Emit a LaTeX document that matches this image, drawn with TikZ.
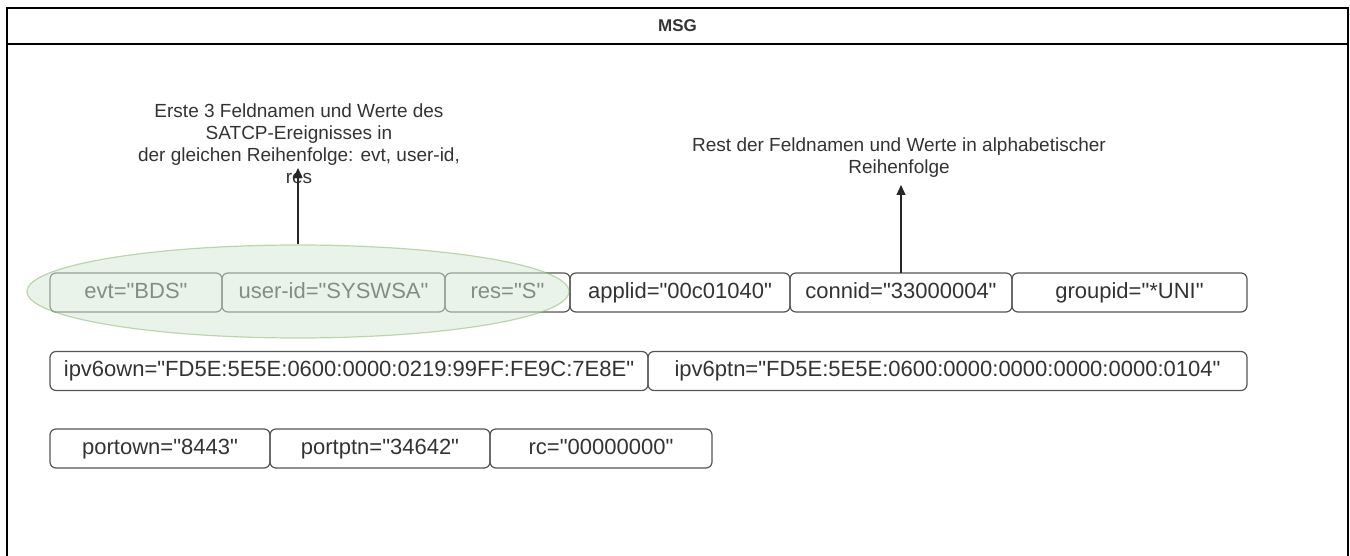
\documentclass[tikz,border=0pt]{standalone}
\usepackage{fontspec}
\setmainfont{Liberation Sans}[Ligatures=TeXOff]
\usetikzlibrary{positioning,arrows.meta,shapes.geometric}

\definecolor{ink}{HTML}{333333}
\definecolor{edge}{HTML}{555555}
\definecolor{leaf}{HTML}{D5E8D4}
\definecolor{leafline}{HTML}{82B366}

\begin{document}
\begin{tikzpicture}[
    x=1pt, y=-1pt,
    >={Triangle[length=10pt,width=9pt]},
    field/.style={draw=edge, line width=1.2pt, rounded corners=6pt,
                  minimum height=39pt, inner sep=0pt, outer sep=0pt,
                  text height=16pt, text depth=4.5pt,
                  text=ink, font=\fontsize{22}{26}\selectfont},
    note/.style={align=center, text=ink, inner sep=0pt,
                 font=\fontsize{19}{22}\selectfont},
    pointer/.style={->, line width=1.3pt, draw=black!85}
  ]
  \clip (0,0) rectangle (1350,556);

  % container
  \draw[line width=1.5pt] (7,570) |- (1348,8) -- (1348,570);
  \draw[line width=1.5pt] (7,44) -- (1348,44);
  \node[text=ink, font=\bfseries\fontsize{17}{20}\selectfont] (title) at (677.5,26) {MSG};

  % first row
  \node[field, minimum width=172pt, anchor=west] (evt) at (50,292.5) {evt="BDS"};
  \node[field, minimum width=223pt, right=0pt of evt] (userid) {user-id="SYSWSA"};
  \node[field, minimum width=125pt, right=0pt of userid] (res) {res="S"};
  \node[field, minimum width=220pt, right=0pt of res] (applid) {applid="00c01040"};
  \node[field, minimum width=222pt, right=0pt of applid] (connid) {connid="33000004"};
  \node[field, minimum width=235pt, right=0pt of connid] (groupid) {groupid="*UNI"};

  % second row
  \node[field, minimum width=598pt, anchor=west] (ipv6own) at (50,371)
        {ipv6own="FD5E:5E5E:0600:0000:0219:99FF:FE9C:7E8E"};
  \node[field, minimum width=599pt, right=0pt of ipv6own] (ipv6ptn)
        {ipv6ptn="FD5E:5E5E:0600:0000:0000:0000:0000:0104"};

  % third row
  \node[field, minimum width=220pt, anchor=west] (portown) at (50,448.5) {portown="8443"};
  \node[field, minimum width=220pt, right=0pt of portown] (portptn) {portptn="34642"};
  \node[field, minimum width=222pt, right=0pt of portptn] (rc) {rc="00000000"};

  % highlight of the first three fields
  \node[ellipse, draw=leafline, fill=leaf, opacity=0.5, line width=1.2pt,
        minimum width=542pt, minimum height=93pt, inner sep=0pt]
        (first) at (298,291.5) {};

  \node[note] (firstnote) at (299,143.5)
        {Erste 3 Feldnamen und Werte des\\SATCP-Ereignisses in\\
         der gleichen Reihenfolge: evt, user-id,\\res};
  \node[note] (restnote) at (899,157.5)
        {Rest der Feldnamen und Werte in alphabetischer\\Reihenfolge};

  \coordinate (firsttip) at (298,168);
  \coordinate (resttip) at (901,185);
  \draw[pointer] (first.north) -- (firsttip);
  \draw[pointer] (connid.north) -- (resttip);
\end{tikzpicture}
\end{document}
